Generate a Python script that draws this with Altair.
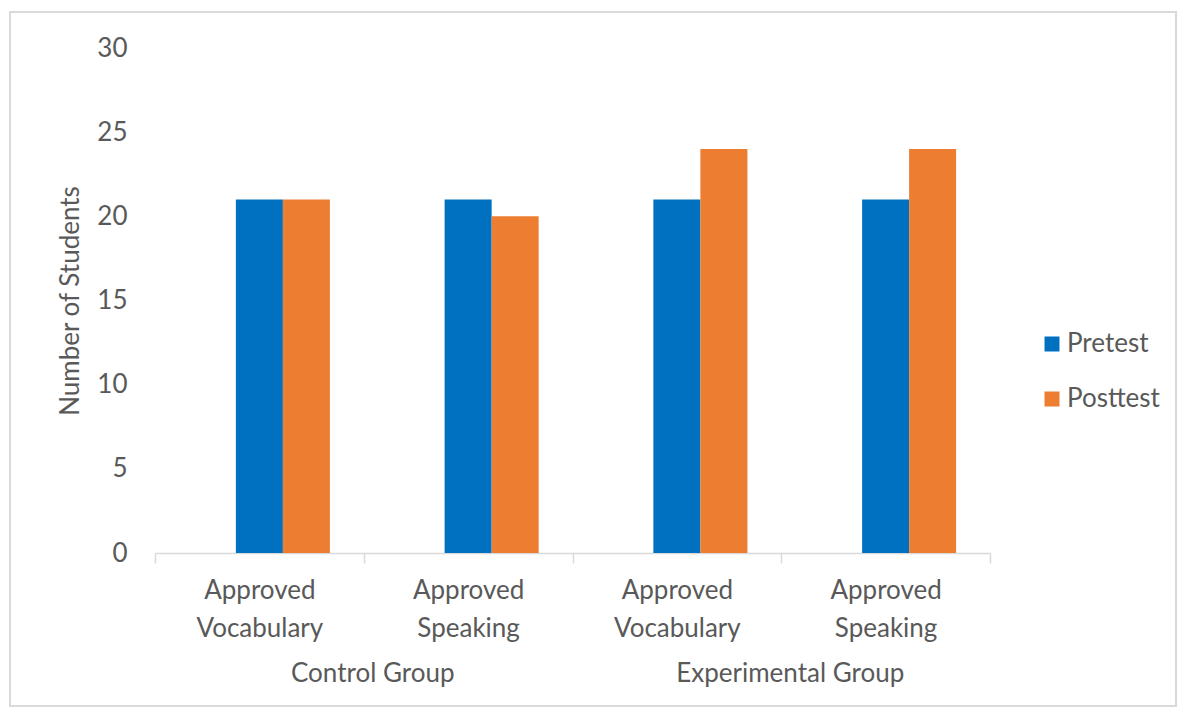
import altair as alt
import pandas as pd

groups = ["Control Group", "Control Group", "Experimental Group", "Experimental Group"]
skills = ["Approved Vocabulary", "Approved Speaking", "Approved Vocabulary", "Approved Speaking"]
pretest = [21, 21, 21, 21]
posttest = [21, 20, 24, 24]
series = ["Pretest", "Posttest"]
y_ticks = [0, 5, 10, 15, 20, 25, 30]
group_labels = ["Control Group", "Experimental Group"]

keys = [f"{g}|{s}" for g, s in zip(groups, skills)]
rows = []
for k, a, b in zip(keys, pretest, posttest):
    rows.append({"key": k, "series": "Pretest", "value": a})
    rows.append({"key": k, "series": "Posttest", "value": b})
df = pd.DataFrame(rows)

# group label anchored at boundary between the group's two categories
gdf = pd.DataFrame({"key": [keys[1], keys[3]], "label": group_labels})

FONT = "Lato"
FS = 26
TXT = "#595959"
W, H = 835, 505

xscale = alt.Scale(domain=keys, paddingInner=0, paddingOuter=0)

bars = alt.Chart(df).mark_bar().encode(
    x=alt.X("key:N", scale=xscale, sort=keys, title=None,
            axis=alt.Axis(labelExpr="indexof(datum.label, '|') >= 0 ? split(split(datum.label, '|')[1], ' ') : ''",
                          labelAngle=0, labelFontSize=FS, labelColor=TXT, labelFont=FONT,
                          labelLineHeight=38, labelBaseline="top", labelPadding=14,
                          tickBand="extent", tickSize=10, tickColor="#D9D9D9",
                          domainColor="#D9D9D9", domainWidth=1.5, tickWidth=1.5, grid=False)),
    xOffset=alt.XOffset("series:N", scale=alt.Scale(domain=["_"] + series, paddingInner=0, paddingOuter=0.72)),
    y=alt.Y("value:Q", scale=alt.Scale(domain=[0, 30], nice=False), title="Number of Students",
            axis=alt.Axis(values=y_ticks, domain=False, ticks=False, grid=False,
                          labelFontSize=FS, labelColor=TXT, labelFont=FONT, labelPadding=28,
                          titleFontSize=FS, titleColor=TXT, titleFont=FONT, titleFontWeight="normal",
                          titleX=-85, titleY=H / 2, titleAngle=270, titleAlign="center",
                          titleBaseline="middle")),
    color=alt.Color("series:N", scale=alt.Scale(domain=series, range=["#0070C0", "#ED7D31"]),
                    legend=alt.Legend(title=None, orient="none", legendX=884, legendY=283,
                                      symbolType="square", symbolSize=225, symbolStrokeWidth=0,
                                      labelFontSize=FS, labelColor=TXT, labelFont=FONT,
                                      labelOffset=2, rowPadding=29, padding=0)),
)

glabels = alt.Chart(gdf).mark_text(fontSize=FS, font=FONT, color=TXT, baseline="middle", dx=9).encode(
    x=alt.X("key:N", scale=xscale, bandPosition=0),
    y=alt.value(H + 121),
    text="label:N",
)

frame = alt.Chart(pd.DataFrame({"a": [0]})).mark_rect(fill=None, stroke="#D9D9D9", strokeWidth=2).encode(
    x=alt.value(-145), x2=alt.value(1021), y=alt.value(-36), y2=alt.value(658)
)

chart = alt.layer(frame, bars, glabels).properties(
    width=W, height=H,
    autosize=alt.AutoSizeParams(type="none"),
    padding={"left": 155, "top": 48, "right": 194, "bottom": 170},
    background="white",
).configure_view(stroke=None)

chart.save("out.html", embed_options={"renderer": "svg", "actions": False})
